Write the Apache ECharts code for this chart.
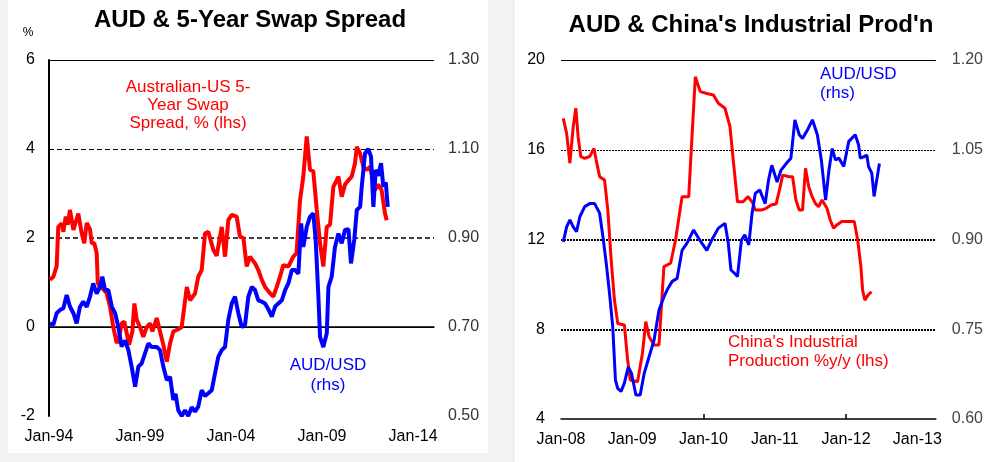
<!DOCTYPE html>
<html>
<head>
<meta charset="utf-8">
<title>AUD charts</title>
<script src="https://cdn.jsdelivr.net/npm/echarts@6/dist/echarts.min.js"></script>
<style>
    html, body { margin: 0; padding: 0; background: #f2f2f2; }
    .panel { position: absolute; background: #fff; }
    #main { position: absolute; left: 0; top: 0; width: 986px; height: 462px; }
</style>
</head>
<body>
<div class="panel" style="left:8px;top:0;width:480px;height:453px;"></div>
<div class="panel" style="left:515px;top:0;width:471px;height:462px;"></div>
<div id="main"></div>
<script>
/* left chart: AUD & 5-year swap spread */
var spreadYears = [1994.05,1994.24,1994.42,1994.51,1994.70,1994.79,1994.92,1995.03,1995.15,1995.34,
    1995.61,1995.80,1995.94,1996.07,1996.25,1996.35,1996.49,1996.62,1996.68,1996.80,
    1996.98,1997.17,1997.35,1997.53,1997.72,1997.85,1997.99,1998.14,1998.27,1998.40,
    1998.58,1998.69,1998.82,1999.00,1999.18,1999.37,1999.55,1999.68,1999.92,2000.10,
    2000.28,2000.47,2000.65,2000.83,2001.10,2001.29,2001.57,2001.75,2002.02,2002.20,
    2002.39,2002.57,2002.75,2003.03,2003.21,2003.49,2003.67,2003.85,2004.04,2004.31,
    2004.49,2004.68,2004.86,2005.04,2005.32,2005.50,2005.69,2005.87,2006.14,2006.32,
    2006.51,2006.69,2006.87,2007.15,2007.42,2007.60,2007.79,2007.97,2008.16,2008.34,
    2008.52,2008.71,2008.89,2009.07,2009.26,2009.44,2009.62,2009.90,2010.08,2010.26,
    2010.45,2010.63,2010.81,2010.91,2011.09,2011.27,2011.46,2011.64,2011.91,2012.09,
    2012.27,2012.46,2012.55];
var spreadValues = [1.06,1.13,1.36,2.25,2.33,2.14,2.48,2.3,2.63,2.18,
    2.55,2.1,1.88,2.34,2.2,1.88,1.88,1.66,0.99,0.9,
    0.85,0.76,0.46,0.0,-0.36,-0.25,0.08,0.12,-0.14,-0.4,
    -0.1,0.53,0.16,0.0,-0.22,0.0,0.08,-0.1,0.2,-0.1,
    -0.4,-0.78,-0.37,-0.1,-0.05,0.0,0.9,0.6,0.75,1.13,
    1.28,2.1,2.14,1.73,1.6,2.25,1.58,2.4,2.52,2.48,
    2.03,2.0,1.36,1.58,1.43,1.28,1.06,0.9,0.76,0.68,
    0.9,1.13,1.39,1.36,1.58,1.66,2.85,3.38,4.28,3.53,
    3.5,2.63,1.88,1.36,2.25,2.3,3.15,3.38,2.93,3.2,
    3.3,3.38,3.68,4.05,3.9,3.6,3.53,3.6,3.08,3.2,
    3.08,2.55,2.4];

var audYearsL = [1994.05,1994.24,1994.42,1994.60,1994.79,1994.97,1995.15,1995.34,1995.52,1995.70,
    1995.88,1996.07,1996.25,1996.43,1996.62,1996.80,1996.93,1997.08,1997.26,1997.45,
    1997.63,1997.81,1997.99,1998.18,1998.36,1998.54,1998.73,1998.91,1999.09,1999.27,
    1999.46,1999.64,1999.92,2000.10,2000.28,2000.47,2000.65,2000.83,2000.95,2001.10,
    2001.29,2001.47,2001.65,2001.84,2002.02,2002.20,2002.39,2002.57,2002.75,2002.94,
    2003.12,2003.30,2003.49,2003.67,2003.85,2004.04,2004.22,2004.40,2004.59,2004.77,
    2004.95,2005.14,2005.32,2005.50,2005.69,2005.87,2006.05,2006.24,2006.42,2006.60,
    2006.79,2006.97,2007.15,2007.34,2007.52,2007.70,2007.85,2007.97,2008.16,2008.34,
    2008.52,2008.65,2008.80,2008.89,2009.07,2009.26,2009.35,2009.53,2009.71,2009.90,
    2010.08,2010.26,2010.45,2010.59,2010.77,2010.91,2011.09,2011.18,2011.36,2011.54,
    2011.69,2011.82,2011.95,2012.09,2012.24,2012.37,2012.50,2012.61];
var audValuesL = [0.708,0.705,0.731,0.738,0.742,0.772,0.746,0.731,0.708,0.745,
    0.757,0.745,0.768,0.798,0.775,0.79,0.813,0.783,0.783,0.746,
    0.731,0.70,0.656,0.67,0.648,0.611,0.566,0.611,0.618,0.64,
    0.663,0.655,0.655,0.648,0.611,0.581,0.588,0.536,0.55,0.513,
    0.50,0.513,0.50,0.52,0.51,0.521,0.558,0.545,0.551,0.558,
    0.596,0.633,0.648,0.655,0.716,0.753,0.768,0.731,0.70,0.705,
    0.768,0.79,0.783,0.76,0.757,0.753,0.74,0.723,0.746,0.753,
    0.76,0.783,0.798,0.828,0.828,0.82,0.933,0.88,0.925,0.948,
    0.955,0.896,0.768,0.678,0.655,0.686,0.79,0.813,0.88,0.91,
    0.888,0.918,0.92,0.843,0.896,0.963,0.97,1.015,1.09,1.10,
    1.083,0.97,1.053,1.04,1.068,1.015,1.025,0.97];

var spreadTicks = [-2, 0, 2, 4, 6];
var audTicksL = [0.5, 0.7, 0.9, 1.1, 1.3];
var yearTicksL = [1994, 1999, 2004, 2009, 2014];

/* right chart: AUD & China's industrial production */
var ipYears = [2008.032,2008.079,2008.125,2008.171,2008.208,2008.240,2008.278,2008.333,2008.403,2008.463,
    2008.493,2008.542,2008.611,2008.657,2008.704,2008.750,2008.796,2008.889,2008.935,2008.972,
    2009.074,2009.143,2009.190,2009.236,2009.306,2009.375,2009.444,2009.538,2009.607,2009.699,
    2009.792,2009.838,2009.885,2009.954,2010.046,2010.139,2010.208,2010.301,2010.371,2010.417,
    2010.476,2010.556,2010.625,2010.694,2010.726,2010.810,2010.879,2010.949,2011.018,2011.065,
    2011.111,2011.204,2011.250,2011.296,2011.343,2011.389,2011.431,2011.476,2011.524,2011.569,
    2011.615,2011.662,2011.732,2011.778,2011.824,2011.871,2011.940,2012.032,2012.115,2012.163,
    2012.208,2012.232,2012.264,2012.310,2012.357];
var ipValues = [17.4,16.73,15.4,17.02,17.85,16.58,15.69,15.62,15.7,16.06,
    15.55,14.8,14.65,13.31,11.09,9.3,8.26,8.19,6.63,5.74,
    5.66,6.93,8.34,7.67,7.3,7.3,10.79,10.94,11.98,13.91,
    13.91,16.58,19.25,18.59,18.51,18.44,18.07,17.85,17.03,15.54,
    13.68,13.68,13.91,13.61,13.31,13.31,13.39,13.54,13.58,14.2,
    14.87,14.8,14.8,13.76,13.31,13.31,15.17,14.35,13.91,13.61,
    13.46,13.76,13.39,12.87,12.5,12.65,12.8,12.8,12.8,11.98,
    10.79,9.75,9.3,9.53,9.67];

var audYearsR = [2008.032,2008.079,2008.125,2008.171,2008.218,2008.264,2008.333,2008.403,2008.472,2008.542,
    2008.588,2008.635,2008.681,2008.726,2008.764,2008.796,2008.843,2008.889,2008.944,2008.990,
    2009.051,2009.111,2009.167,2009.236,2009.306,2009.375,2009.444,2009.490,2009.560,2009.629,
    2009.699,2009.768,2009.861,2009.931,2009.976,2010.046,2010.115,2010.208,2010.301,2010.347,
    2010.385,2010.440,2010.476,2010.532,2010.579,2010.635,2010.681,2010.726,2010.788,2010.865,
    2010.913,2010.958,2011.032,2011.088,2011.181,2011.226,2011.282,2011.343,2011.389,2011.458,
    2011.528,2011.597,2011.653,2011.713,2011.760,2011.806,2011.851,2011.899,2011.968,2012.038,
    2012.129,2012.176,2012.199,2012.246,2012.292,2012.315,2012.361,2012.393,2012.431,2012.468];
var audValuesR = [0.896,0.921,0.933,0.921,0.913,0.938,0.955,0.96,0.96,0.944,
    0.905,0.86,0.81,0.754,0.665,0.651,0.646,0.66,0.687,0.676,
    0.64,0.64,0.676,0.704,0.732,0.782,0.804,0.816,0.83,0.835,
    0.882,0.894,0.916,0.902,0.894,0.882,0.899,0.919,0.927,0.894,
    0.849,0.843,0.838,0.899,0.908,0.891,0.944,0.977,0.983,0.96,
    1.0,1.024,0.996,1.016,1.03,1.036,1.1,1.075,1.069,1.083,
    1.1,1.075,1.033,0.966,1.016,1.052,1.033,1.036,1.022,1.064,
    1.075,1.058,1.036,1.038,1.041,1.022,1.011,0.972,1.0,1.027];

var ipTicks = [4, 8, 12, 16, 20];
var audTicksR = [0.6, 0.75, 0.9, 1.05, 1.2];
var yearTicksR = [2008, 2009, 2010, 2011, 2012, 2013];

var FONT = '"Liberation Sans", Arial, sans-serif';

function pairs(xs, ys) {
    var out = [];
    for (var i = 0; i < xs.length; i++) {
        out.push([xs[i], ys[i]]);
    }
    return out;
}

function yearLabel(v) {
    var yy = Math.round(v) % 100;
    return 'Jan-' + (yy < 10 ? '0' + yy : yy);
}

function $extend(a, b) {
    for (var k in b) { a[k] = b[k]; }
    return a;
}

function xAxisOf(grid, min, max, ticks, extra) {
    return $extend({
        gridIndex: grid,
        type: 'value',
        min: min,
        max: max,
        axisLine: { show: true, lineStyle: { color: '#000', width: 1.5 } },
        axisTick: { show: false },
        splitLine: { show: false },
        axisLabel: {
            customValues: ticks,
            formatter: yearLabel,
            color: '#000',
            fontSize: 16,
            fontFamily: FONT,
            margin: 13
        }
    }, extra || {});
}

function yAxisOf(grid, pos, min, max, ticks, digits, color, margin, showLine) {
    return {
        gridIndex: grid,
        type: 'value',
        position: pos,
        min: min,
        max: max,
        axisLine: { show: !!showLine, lineStyle: { color: '#000', width: 2 } },
        axisTick: { show: false },
        splitLine: { show: false },
        axisLabel: {
            customValues: ticks,
            formatter: function (v) { return v.toFixed(digits); },
            color: color,
            fontSize: 16,
            fontFamily: FONT,
            margin: margin
        }
    };
}

function text(str, x, y, size, color, align, lh, weight) {
    return {
        type: 'text',
        x: x,
        y: y,
        silent: true,
        style: {
            text: str,
            fill: color,
            fontSize: size,
            fontFamily: FONT,
            fontWeight: weight || 'normal',
            align: align,
            verticalAlign: 'middle',
            lineHeight: lh || size
        }
    };
}

var chart = echarts.init(document.getElementById('main'), null, { renderer: 'canvas' });

var option = {
    backgroundColor: 'transparent',
    animation: false,
    grid: [
        { left: 49, top: 60, width: 385, height: 356 },
        { left: 561, top: 60, width: 379, height: 359 }
    ],
    xAxis: [
        xAxisOf(0, 1994, 2015.15, yearTicksL),
        xAxisOf(1, 2008, 2013.26, yearTicksR, {
            axisTick: {
                show: true,
                inside: true,
                length: 5,
                customValues: [2010, 2012],
                lineStyle: { color: '#000', width: 1.5 }
            }
        })
    ],
    yAxis: [
        yAxisOf(0, 'left', -2, 6, spreadTicks, 0, '#000', 14, true),
        yAxisOf(0, 'right', 0.5, 1.3, audTicksL, 2, '#333', 14, false),
        yAxisOf(1, 'left', 4, 20, ipTicks, 0, '#000', 16, false),
        yAxisOf(1, 'right', 0.6, 1.2, audTicksR, 2, '#444', 16, false)
    ],
    series: [
        {
            name: 'Australian-US 5-Year Swap Spread',
            type: 'line',
            xAxisIndex: 0,
            yAxisIndex: 0,
            data: pairs(spreadYears, spreadValues),
            showSymbol: false,
            lineStyle: { color: '#ff0000', width: 4 },
            markLine: {
                silent: true,
                z: 1,
                symbol: 'none',
                label: { show: false },
                data: [
                    { yAxis: spreadTicks[4], lineStyle: { color: '#000', type: 'solid', width: 1 } },
                    { yAxis: spreadTicks[3], lineStyle: { color: '#000', type: [5, 3], width: 1.2 } },
                    { yAxis: spreadTicks[2], lineStyle: { color: '#000', type: [5, 3], width: 1.5 } },
                    { yAxis: spreadTicks[1], lineStyle: { color: '#000', type: 'solid', width: 1 } }
                ]
            }
        },
        {
            name: 'AUD/USD',
            type: 'line',
            xAxisIndex: 0,
            yAxisIndex: 1,
            data: pairs(audYearsL, audValuesL),
            showSymbol: false,
            lineStyle: { color: '#0000ff', width: 4 }
        },
        {
            name: "China's Industrial Production",
            type: 'line',
            xAxisIndex: 1,
            yAxisIndex: 2,
            data: pairs(ipYears, ipValues),
            showSymbol: false,
            lineStyle: { color: '#ff0000', width: 3 },
            markLine: {
                silent: true,
                z: 1,
                symbol: 'none',
                label: { show: false },
                data: [
                    { yAxis: ipTicks[4], lineStyle: { color: '#000', type: 'solid', width: 1 } },
                    { yAxis: ipTicks[3], lineStyle: { color: '#000', type: [2, 1], width: 1 } },
                    { yAxis: ipTicks[2], lineStyle: { color: '#000', type: [2, 1], width: 2 } },
                    { yAxis: ipTicks[1], lineStyle: { color: '#000', type: [2, 1], width: 2 } }
                ]
            }
        },
        {
            name: 'AUD/USD (rhs)',
            type: 'line',
            xAxisIndex: 1,
            yAxisIndex: 3,
            data: pairs(audYearsR, audValuesR),
            showSymbol: false,
            lineStyle: { color: '#0000ff', width: 3 }
        }
    ],
    graphic: [
        text('AUD & 5-Year Swap Spread', 250, 20, 24, '#000', 'center', 24, 'bold'),
        text("AUD & China's Industrial Prod'n", 751, 25, 24, '#000', 'center', 24, 'bold'),
        text('%', 28, 33, 12, '#000', 'center'),
        text('Australian-US 5-\nYear Swap\nSpread, % (lhs)', 188, 105, 17, '#ff0000', 'center', 18),
        text('AUD/USD\n(rhs)', 328, 375, 17, '#0000ff', 'center', 20),
        text('AUD/USD\n(rhs)', 820, 84, 17, '#0000ff', 'left', 19),
        text("China's Industrial\nProduction %y/y (lhs)", 728, 352, 17, '#ff0000', 'left', 19)
    ]
};

chart.setOption(option);
</script>
</body>
</html>
